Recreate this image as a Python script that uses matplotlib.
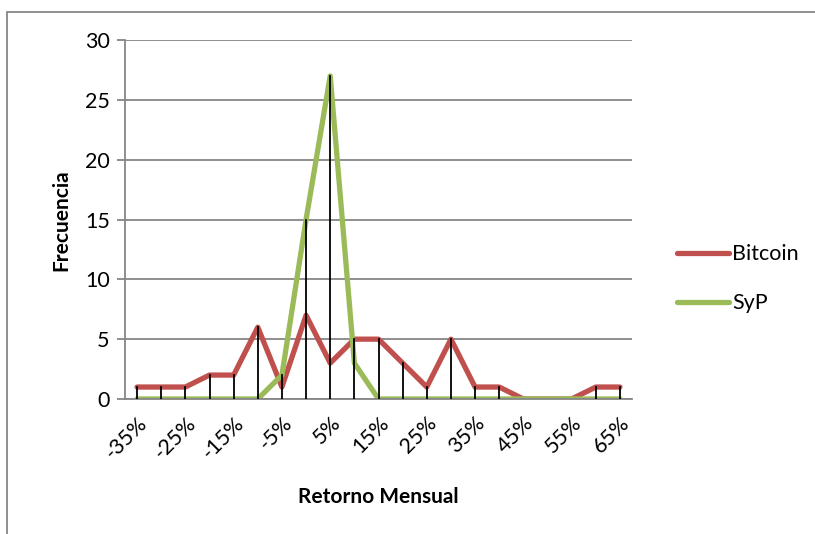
import matplotlib.pyplot as plt
from matplotlib.patches import Rectangle

plt.rcParams['font.family'] = ['Lato', 'DejaVu Sans']

# rango de retornos mensuales (-35% a 65%, cada 5%)
retornos = list(range(-35, 70, 5))
bitcoin = [1, 1, 1, 2, 2, 6, 1, 7, 3, 5, 5, 3, 1, 5, 1, 1, 0, 0, 0, 1, 1]
syp = [0, 0, 0, 0, 0, 0, 2, 15, 27, 3, 0, 0, 0, 0, 0, 0, 0, 0, 0, 0, 0]

fig = plt.figure(figsize=(8.15, 5.34), dpi=100)
ax = fig.add_axes([125 / 815, 1 - 399 / 534, (632 - 125) / 815, (399 - 40) / 534])

x = list(range(len(retornos)))

# lineas de caida desde el valor mas alto hasta cero
for i in x:
    ax.plot([i, i], [0, max(bitcoin[i], syp[i])], color='black', lw=1.3, zorder=3)

ax.plot(x, bitcoin, color='#C0504D', lw=3.8, solid_capstyle='round',
        solid_joinstyle='round', label='Bitcoin', zorder=2)
ax.plot(x, syp, color='#9BBB59', lw=3.8, solid_capstyle='round',
        solid_joinstyle='round', label='SyP', zorder=2)

ax.set_xlim(-0.5, len(retornos) - 0.5)
ax.set_ylim(0, 30)
ax.set_yticks(range(0, 31, 5))
ax.yaxis.grid(True, color='#868686', lw=1.3)
ax.set_axisbelow(True)

ax.set_xticks(x[::2])
ax.set_xticklabels([f'{r}%' for r in retornos[::2]], rotation=45,
                   ha='right', va='top', rotation_mode='anchor')
ax.tick_params(axis='x', length=0, pad=10, labelsize=15.5)
ax.tick_params(axis='y', length=6, width=1.3, color='#868686', labelsize=15.5, pad=5)

for s in ['top', 'right']:
    ax.spines[s].set_visible(False)
for s in ['left', 'bottom']:
    ax.spines[s].set_color('#868686')
    ax.spines[s].set_linewidth(1.3)

ax.set_xlabel('Retorno Mensual', fontsize=15, fontweight='bold')
ax.set_ylabel('Frecuencia', fontsize=15, fontweight='bold')
ax.xaxis.set_label_coords((378 - 125) / 507, -(487 - 399) / 359)
ax.yaxis.set_label_coords(-(125 - 71) / 507, (399 - 220) / 359)

leg = fig.legend(loc='upper left', bbox_to_anchor=(0.807, 1 - 225 / 534),
                 frameon=False, fontsize=15.5, handlelength=2.4,
                 handletextpad=0.15, labelspacing=1.35)

fig.patches.append(Rectangle((7 / 815, -0.1), 1.2, 1 - 12 / 534 + 0.1,
                             transform=fig.transFigure, fill=False,
                             edgecolor='#868686', lw=1.3))

fig.savefig('out.png', dpi=100)
